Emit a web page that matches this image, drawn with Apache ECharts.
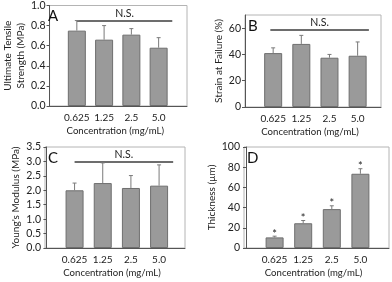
<!DOCTYPE html>
<html><head><meta charset="utf-8">
<script src="https://cdn.jsdelivr.net/npm/echarts@6/dist/echarts.min.js"></script>
<style>html,body{margin:0;padding:0;background:#fff}#c{width:392px;height:282px}</style>
</head><body><div id="c"></div>
<script>
// ---- data ----
const categories = ['0.625', '1.25', '2.5', '5.0'];
const xPositions = [1, 2, 3, 4];
const utsMean = [0.75, 0.66, 0.71, 0.58];
const utsErr = [0.10, 0.14, 0.06, 0.10];
const strainMean = [41, 48, 37.5, 39];
const strainErr = [4, 6.5, 2.5, 10.5];
const modulusMean = [2.0, 2.25, 2.08, 2.16];
const modulusErr = [0.25, 0.70, 0.43, 0.72];
const thicknessMean = [10.5, 24.5, 38.5, 73.5];
const thicknessErr = [1.2, 2.7, 3.3, 5.0];
const thicknessSig = [1, 1, 1, 1];
const ticksA = [0, 0.2, 0.4, 0.6, 0.8, 1.0];
const ticksB = [0, 20, 40, 60];
const ticksC = [0, 0.5, 1.0, 1.5, 2.0, 2.5, 3.0, 3.5];
const ticksD = [0, 20, 40, 60, 80, 100];
const nsA = [1, 4.5, 0.85];
const nsB = [0.9, 4.4, 59];
const nsC = [1, 4.5, 3.0];

// ---- layout ----
const FONT = "'Lato', sans-serif";
const panels = [
  {letter:'A', grid:{left:45, top:5, width:142, height:101}, xr:[0,5.04], yr:[0,1.0], ticks:ticksA, dec:1,
   yname:'Ultimate Tensile\nStrength (MPa)', ygap:19, mean:utsMean, err:utsErr, ns:nsA},
  {letter:'B', grid:{left:245, top:15, width:136, height:92}, xr:[0,4.83], yr:[0,70], ticks:ticksB, dec:0,
   yname:'Strain at Failure (%)', ygap:18, mean:strainMean, err:strainErr, ns:nsB},
  {letter:'C', grid:{left:45, top:147, width:140, height:101}, xr:[-0.05,4.92], yr:[0,3.5], ticks:ticksC, dec:1,
   yname:"Young's Modulus (MPa)", ygap:22, mean:modulusMean, err:modulusErr, ns:nsC},
  {letter:'D', grid:{left:244, top:147, width:145, height:101}, xr:[-0.07,5.0], yr:[0,100], ticks:ticksD, dec:0,
   yname:'Thickness (\u00b5m)', ygap:18, mean:thicknessMean, err:thicknessErr, sig:thicknessSig}
];

const grids = [], xAxes = [], yAxes = [], series = [], titles = [];
panels.forEach((p, i) => {
  grids.push(Object.assign({show:true, borderColor:'#b4b4b4', borderWidth:1, backgroundColor:'transparent'}, p.grid));
  xAxes.push({
    type:'value', gridIndex:i, min:p.xr[0], max:p.xr[1],
    axisLine:{show:true, onZero:false, lineStyle:{color:'#555', width:1}},
    axisTick:{show:false}, splitLine:{show:false},
    axisLabel:{customValues:xPositions, formatter:v => categories[xPositions.indexOf(v)] || '',
      color:'#222', fontSize:10, fontFamily:FONT, margin:7},
    name:'Concentration (mg/mL)', nameLocation:'middle', nameGap:20,
    nameTextStyle:{color:'#222', fontSize:9.6, fontFamily:FONT, padding:[0,6,0,0]}
  });
  yAxes.push({
    type:'value', gridIndex:i, min:p.yr[0], max:p.yr[1],
    axisLine:{show:true, lineStyle:{color:'#555', width:1}},
    axisTick:{show:true, length:3, customValues:p.ticks, lineStyle:{color:'#555'}},
    splitLine:{show:false},
    axisLabel:{customValues:p.ticks, formatter:v => v.toFixed(p.dec), color:'#222', fontSize:10.5, fontFamily:FONT, margin:4,
      showMaxLabel:true, showMinLabel:true},
    name:p.yname, nameLocation:'middle', nameGap:p.ygap,
    nameTextStyle:{color:'#222', fontSize:10, fontFamily:FONT, lineHeight:13}
  });
  const barData = xPositions.map((x, k) => [x, p.mean[k]]);
  const bar = {
    type:'bar', xAxisIndex:i, yAxisIndex:i, data:barData, barWidth:18,
    itemStyle:{color:'#9a9a9a', borderColor:'#6e6e6e', borderWidth:1}, silent:true
  };
  if (p.ns) {
    bar.markLine = {
      symbol:'none', silent:true, animation:false,
      lineStyle:{color:'#3c3c3c', width:1.6, type:'solid'},
      label:{show:true, position:'middle', formatter:'N.S.', color:'#222', fontSize:10.5, fontFamily:FONT, distance:1},
      data:[[{coord:[p.ns[0], p.ns[2]]}, {coord:[p.ns[1], p.ns[2]]}]]
    };
  }
  series.push(bar);
  const errData = xPositions.map((x, k) => [x, p.mean[k], p.err[k], p.sig ? p.sig[k] : 0]);
  series.push({
    type:'custom', xAxisIndex:i, yAxisIndex:i, data:errData, z:5, silent:true,
    renderItem:(params, api) => {
      const x = api.value(0), m = api.value(1), e = api.value(2), s = api.value(3);
      const p0 = api.coord([x, m]), p1 = api.coord([x, m + e]);
      const children = [
        {type:'line', shape:{x1:p0[0], y1:p0[1], x2:p1[0], y2:p1[1]}, style:{stroke:'#7a7a7a', lineWidth:1}},
        {type:'line', shape:{x1:p1[0]-2, y1:p1[1], x2:p1[0]+2, y2:p1[1]}, style:{stroke:'#7a7a7a', lineWidth:1}}
      ];
      if (s) children.push({type:'text', style:{text:'*', x:p1[0], y:p1[1]-2, align:'center', verticalAlign:'middle',
        fill:'#222', fontSize:11, fontFamily:FONT}});
      return {type:'group', children};
    }
  });
  titles.push({text:p.letter, left:p.grid.left + 3, top:p.grid.top + 4,
    textStyle:{fontSize:15, fontWeight:'normal', color:'#111', fontFamily:FONT}, padding:0});
});

const chart = echarts.init(document.getElementById('c'), null, {renderer:'canvas'});
chart.setOption({animation:false, backgroundColor:'#fff', title:titles, grid:grids, xAxis:xAxes, yAxis:yAxes, series});
</script></body></html>
